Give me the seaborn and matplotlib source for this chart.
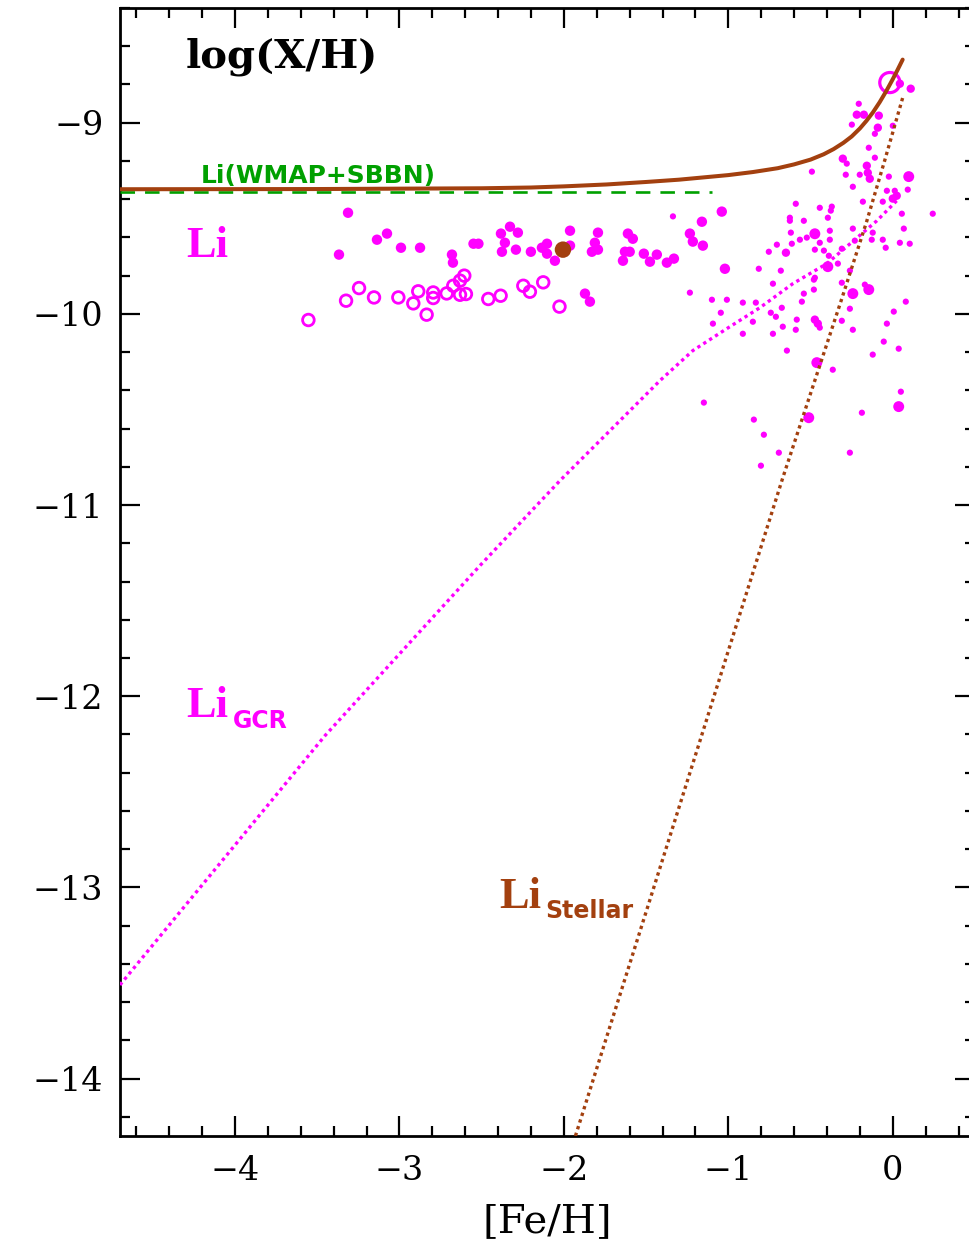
import numpy as np
import pandas as pd
import matplotlib
matplotlib.use("Agg")
import matplotlib.pyplot as plt
import seaborn as sns

# ---------------- data ----------------
# Halo stars (open circles)
halo_open_feh = [-3.554, -3.325, -3.246, -3.155, -3.007, -2.916, -2.886, -2.835, -2.795, -2.795,
                 -2.713, -2.673, -2.632, -2.606, -2.632, -2.596, -2.460, -2.385, -2.247, -2.207,
                 -2.126, -2.027]
halo_open_li = [-10.032, -9.931, -9.865, -9.914, -9.914, -9.945, -9.882, -10.004, -9.888, -9.917,
                -9.893, -9.853, -9.826, -9.800, -9.900, -9.896, -9.922, -9.905, -9.853, -9.884,
                -9.835, -9.962]

# Halo / thick-disk stars (filled circles)
halo_fill_feh = [-3.313, -3.368, -3.137, -3.076, -2.991, -2.875, -2.681, -2.675, -2.550, -2.520,
                 -2.328, -2.383, -2.280, -2.359, -2.377, -2.292, -2.201, -2.103, -2.134, -2.103,
                 -2.055, -1.963, -1.963, -1.793, -1.812, -1.830, -1.793, -1.611, -1.581, -1.629,
                 -1.600, -1.641, -1.514, -1.435, -1.477, -1.374, -1.331, -1.234, -1.216, -1.161,
                 -1.155, -1.040, -1.021, -1.872, -1.842]
halo_fill_li = [-9.471, -9.690, -9.612, -9.580, -9.654, -9.654, -9.690, -9.732, -9.633, -9.633,
                -9.544, -9.580, -9.575, -9.628, -9.675, -9.664, -9.675, -9.633, -9.654, -9.685,
                -9.722, -9.565, -9.643, -9.575, -9.628, -9.675, -9.664, -9.580, -9.607, -9.675,
                -9.675, -9.722, -9.685, -9.690, -9.727, -9.732, -9.711, -9.580, -9.622, -9.518,
                -9.643, -9.465, -9.764, -9.894, -9.936]

# Disk stars (filled, three symbol sizes)
disk_feh = [0.043, 0.109, -0.207, -0.219, -0.176, -0.249, -0.085, -0.091, 0.000, -0.109,
            -0.146, -0.109, -0.304, -0.280, -0.492, -0.286, -0.158, -0.152, -0.140, -0.201,
            -0.024, 0.097, -0.243, 0.091, -0.036, 0.012, 0.000, 0.024, -0.061, -0.182,
            -0.590, -0.444, -0.371, -0.377, 0.055, 0.243, -0.626, -0.626, -0.541, -0.395,
            0.067, -0.243, -0.383, -0.620, -0.122, -0.474, -0.523, -0.565, -0.128, -0.061,
            0.043, 0.103, -0.383, -0.444, -0.614, -0.705, -0.754, -0.043, -0.650, -0.474,
            -0.419, -0.310, -0.231, -0.389, -0.395, -0.334, -0.815, -0.681, -0.261, -0.474,
            -1.234, -1.100, -1.009, -0.912, -0.833, -1.046, -1.094, -0.912, -0.851, -0.742,
            -0.711, -0.675, -0.729, -0.669, -0.729, -0.584, -0.590, -0.541, -0.553, -0.480,
            -0.480, -0.474, -0.456, -0.444, -0.310, -0.310, -0.243, -0.146, -0.170, -0.261,
            -0.243, 0.079, 0.006, -0.036, -0.055, 0.036, -0.122, -0.644, -0.462, -0.365,
            -1.149, -0.511, -0.188, 0.049, 0.036, -0.845, -0.784, -0.693, -0.261, -0.802,
            -1.337]
disk_li = [-8.796, -8.822, -8.901, -8.958, -8.958, -9.010, -8.963, -9.026, -9.016, -9.058,
           -9.131, -9.183, -9.188, -9.214, -9.256, -9.272, -9.225, -9.262, -9.293, -9.272,
           -9.282, -9.282, -9.335, -9.350, -9.356, -9.356, -9.397, -9.382, -9.413, -9.413,
           -9.424, -9.445, -9.439, -9.460, -9.476, -9.476, -9.497, -9.513, -9.513, -9.497,
           -9.554, -9.554, -9.565, -9.575, -9.575, -9.581, -9.601, -9.612, -9.612, -9.612,
           -9.628, -9.633, -9.612, -9.628, -9.633, -9.638, -9.675, -9.654, -9.680, -9.664,
           -9.669, -9.659, -9.617, -9.696, -9.753, -9.737, -9.764, -9.774, -9.774, -9.811,
           -9.889, -9.926, -9.926, -9.941, -9.941, -9.994, -10.051, -10.104, -10.041, -9.994,
           -10.015, -9.968, -9.842, -10.067, -10.104, -10.030, -10.083, -9.894, -9.936, -9.821,
           -9.873, -10.030, -10.051, -10.072, -9.837, -10.036, -9.894, -9.873, -9.847, -9.973,
           -10.083, -9.936, -9.988, -10.051, -10.145, -10.182, -10.213, -10.192, -10.255, -10.292,
           -10.464, -10.543, -10.517, -10.407, -10.485, -10.553, -10.632, -10.726, -10.726, -10.794,
           -9.490]
disk_kind = ["m", "m", "s", "m", "m", "s", "m", "m", "s", "s",
             "s", "s", "m", "s", "s", "s", "m", "m", "m", "s",
             "s", "b", "s", "s", "s", "s", "m", "m", "s", "s",
             "s", "s", "s", "s", "s", "s", "s", "s", "s", "s",
             "s", "s", "s", "s", "s", "b", "s", "s", "s", "s",
             "s", "s", "s", "s", "s", "s", "s", "s", "m", "s",
             "s", "s", "s", "s", "b", "s", "s", "s", "s", "s",
             "s", "s", "s", "s", "s", "s", "s", "s", "s", "s",
             "s", "s", "s", "s", "s", "s", "s", "s", "s", "s",
             "s", "m", "m", "s", "s", "s", "b", "b", "s", "s",
             "s", "s", "s", "s", "s", "s", "s", "s", "b", "s",
             "s", "b", "s", "s", "b", "s", "s", "s", "s", "s",
             "s"]

# Sun and the highlighted halo star
sun_feh, sun_li = [-0.018], [-8.79]
star_feh, star_li = [-2.006], [-9.664]

# Primordial (WMAP + SBBN) lithium level
sbbn_feh = [-4.7, -1.10]
sbbn_li = [-9.365, -9.365]

# Galactic cosmic-ray component
gcr_feh = [-4.7, -3.453, -2.511, -2.024, -1.416, -1.216, -1.009, -0.809, -0.608, -0.401, -0.097, 0.024]
gcr_li = [-13.51, -12.206, -11.317, -10.872, -10.349, -10.192, -10.077, -9.968, -9.842, -9.737, -9.513, -9.408]

# Stellar component
stel_feh = [-1.93, -1.49, -0.67, -0.31, -0.16, -0.05, 0.06]
stel_li = [-14.30, -13.10, -10.86, -9.92, -9.52, -9.20, -8.87]

# Total lithium evolution
tot_feh = [-4.7, -3.5, -2.5, -2.2, -2.0, -1.74, -1.5, -1.3, -1.0, -0.85, -0.70, -0.60,
           -0.50, -0.42, -0.36, -0.30, -0.25, -0.20, -0.16, -0.12, -0.08, -0.04, 0.0, 0.03, 0.06]
tot_li = [-9.348, -9.347, -9.343, -9.339, -9.333, -9.323, -9.310, -9.298, -9.274, -9.258,
          -9.238, -9.218, -9.193, -9.165, -9.138, -9.105, -9.072, -9.030, -8.990, -8.945,
          -8.893, -8.835, -8.772, -8.722, -8.670]

x_ticks = [-4, -3, -2, -1, 0]
y_ticks = [-14, -13, -12, -11, -10, -9]

# ---------------- style ----------------
MAG = "#FF00FF"
BRN = "#A3400F"
GRN = "#00A000"

sns.set_style("ticks")
plt.rcParams["font.family"] = ["DejaVu Serif"]
plt.rcParams["text.color"] = "black"
plt.rcParams["axes.labelcolor"] = "black"
plt.rcParams["xtick.color"] = "black"
plt.rcParams["ytick.color"] = "black"

fig = plt.figure(figsize=(9.69, 12.49), dpi=100)
ax = fig.add_axes([0.1238, 0.0905, 0.8824, 0.9031])

# ---------------- points ----------------
disk = pd.DataFrame({"feh": disk_feh, "li": disk_li, "kind": disk_kind})
sns.scatterplot(data=disk, x="feh", y="li", size="kind", sizes={"s": 20, "m": 36, "b": 62},
                color=MAG, edgecolor="none", linewidth=0, legend=False, ax=ax, zorder=2)
sns.scatterplot(x=halo_fill_feh, y=halo_fill_li, s=56, color=MAG, edgecolor="none",
                linewidth=0, ax=ax, zorder=2)
sns.scatterplot(x=halo_open_feh, y=halo_open_li, s=70, facecolor="none", edgecolor=MAG,
                linewidth=2.0, ax=ax, zorder=2)
sns.scatterplot(x=sun_feh, y=sun_li, s=210, facecolor="none", edgecolor=MAG,
                linewidth=2.3, ax=ax, zorder=2)
sns.scatterplot(x=star_feh, y=star_li, s=140, color=BRN, edgecolor="none",
                linewidth=0, ax=ax, zorder=3)

# ---------------- curves ----------------
sns.lineplot(x=sbbn_feh, y=sbbn_li, color=GRN, linewidth=1.9, sort=False, estimator=None,
             ax=ax, zorder=4, dashes=False, linestyle=(0, (5.5, 3.8)))
sns.lineplot(x=gcr_feh, y=gcr_li, color=MAG, linewidth=2.4, sort=False, estimator=None,
             ax=ax, zorder=4, linestyle=(0, (1, 1.1)))
sns.lineplot(x=stel_feh, y=stel_li, color=BRN, linewidth=2.4, sort=False, estimator=None,
             ax=ax, zorder=4, linestyle=(0, (1, 1.1)))
sns.lineplot(x=tot_feh, y=tot_li, color=BRN, linewidth=2.9, sort=False,
             estimator=None, ax=ax, zorder=5)
ax.lines[-1].set_solid_joinstyle("round")

# ---------------- axes ----------------
ax.set_xlim(-4.7, 0.5)
ax.set_ylim(-14.3, -8.4)
ax.set_xticks(x_ticks)
ax.set_yticks(y_ticks)
ax.set_xticks(np.arange(-4.6, 0.5, 0.2), minor=True)
ax.set_yticks(np.arange(-14.2, -8.39, 0.2), minor=True)
ax.tick_params(which="both", direction="in", top=True, right=True, width=1.6, color="black",
               labelcolor="black")
ax.tick_params(which="major", length=14.5, labelsize=24, pad=12)
ax.tick_params(which="minor", length=7.5)
ax.tick_params(axis="x", which="major", pad=14)
for sp in ax.spines.values():
    sp.set_linewidth(2.0)
    sp.set_color("black")
ax.set_xlabel("[Fe/H]", fontsize=29, labelpad=11, color="black")
ax.set_ylabel("")

# ---------------- labels ----------------
ax.text(0.077, 0.947, "log(X/H)", transform=ax.transAxes, fontsize=29, fontweight="bold",
        family="DejaVu Serif", color="black", va="baseline", ha="left")
ax.text(0.094, 0.845, "Li(WMAP+SBBN)", transform=ax.transAxes, fontsize=18, fontweight="bold",
        family="DejaVu Sans", color=GRN, va="baseline", ha="left")
ax.text(0.078, 0.779, "Li", transform=ax.transAxes, fontsize=32, fontweight="bold",
        family="Liberation Serif", color=MAG, va="baseline", ha="left")
ax.text(0.078, 0.3715, "Li", transform=ax.transAxes, fontsize=32, fontweight="bold",
        family="Liberation Serif", color=MAG, va="baseline", ha="left")
ax.text(0.132, 0.362, "GCR", transform=ax.transAxes, fontsize=17, fontweight="bold",
        family="DejaVu Sans", color=MAG, va="baseline", ha="left")
ax.text(0.444, 0.2021, "Li", transform=ax.transAxes, fontsize=32, fontweight="bold",
        family="Liberation Serif", color=BRN, va="baseline", ha="left")
ax.text(0.497, 0.193, "Stellar", transform=ax.transAxes, fontsize=17, fontweight="bold",
        family="DejaVu Sans", color=BRN, va="baseline", ha="left")

fig.savefig("out.png", dpi=100)
